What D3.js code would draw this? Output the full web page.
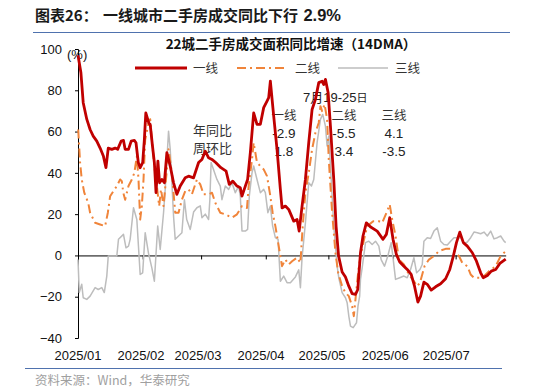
<!DOCTYPE html>
<html><head><meta charset="utf-8">
<script src="https://cdn.jsdelivr.net/npm/d3@7"></script>
<style>
body{margin:0;background:#fff;}
svg{display:block;}
.cn{font-family:"Noto Sans CJK SC","Noto Sans",sans-serif;}
.num{font-family:"Liberation Sans",Arial,sans-serif;}
</style></head>
<body><svg id="c" width="535" height="392"></svg>
<script>
// ---- data (day offset from 2025-01-01, value %) ----
const seriesNames = ["一线","二线","三线"];
const tier1Days = [0,1.4,2.5,4.2,5.8,7.3,9,10.6,12.2,13.4,14.5,16.2,17.8,19,20.7,21.8,22.6,24.2,25.5,27,27.8,28.9,29.8,31,31.8,32.5,34,34.6,35.7,36.6,37.4,38.3,39.1,40.2,41.4,42.6,44.2,45.8,47.4,49,51.4,53,55.4,57.8,59.4,61,62.6,64.2,66,68.5,71,72.5,74.2,76.2,77.8,78.6,80.2,81.3,82.6,84.2,85.8,87.4,89,90.6,91.4,92.2,93.8,95.4,97,97.8,99.4,101,103.4,105,106,107.4,109,110.6,112.2,113.8,115.4,117,117.8,118.6,119.9,121,122.6,123.7,124.9,126.6,128.2,129.8,131.4,133,134.1,135.4,136.6,138.2,140.1,143.4,146.2,147.8,149.4,151,152.6,154.2,156.2,157.8,159.7,161.3,162.9,164.2,165.8,167.4,169.3,171.4,173.8,176.2,178.2,179.9,181.4,183,184.7,186.6,189,191,193,194.2,196.2,198.1,200.2,202.2,205];
const tier1Vals = [97,88.5,74,66,61,57.8,55.4,52,48,42.5,52,51.4,52,51.4,55.4,55.7,51.4,51.4,55.4,55.7,54.6,45,42.5,45,56,69,64,63.5,53,45,30.4,45.7,35.2,36.8,35.2,49.8,43.3,35.2,29.6,33.6,37.6,38.4,37.6,45,46.5,50.5,47.3,46.5,45,42.5,40.8,34.4,36,33.6,32.8,28.7,33.6,36.8,49.8,69,63.5,63.5,71.6,74.8,76.4,84.4,67.5,51.4,32,23,23.9,22.3,16.6,17.4,11.8,23.9,36.8,54.6,70.7,75.6,83.7,84.4,82.8,85.3,78.8,62.6,36.8,14.2,-0.3,-8,-10.5,-14.9,-18.5,-18.9,-16.5,1.3,9.4,15.8,13.9,11.8,7.8,10.2,18.3,7.8,0.5,-3.2,-5.2,-6.8,-9.2,-14.9,-22.6,-19.7,-12.9,-14,-16.8,-15.2,-13.7,-11.3,-6.8,-0.3,6.2,11.3,6.2,4.5,1.3,-2.8,-8.4,-10.8,-9.7,-7.6,-6.8,-3.9,-1.8];

const tier2Days = [0.1,1,1.8,3,4.9,5.8,8.2,10.6,13,14.3,15.4,17,18.6,20.2,21,21.7,22.6,24.2,25.8,27,28.2,29,29.8,30.6,31.4,32.2,33.8,34.6,35.4,36.6,37.8,38.9,39.8,41,42.6,43.4,45,46.6,48.2,49.8,51.4,53,54.6,57,58.6,60.2,62.6,64.2,65.8,68.2,70.6,73.8,76.2,78.6,81,81.8,83.4,84.2,85.8,87.4,89,90.6,92.2,93.3,94.6,96.2,97.8,99.4,101,102.6,105,106.6,107.7,109,110.6,112.2,113.8,115.4,116.2,117,118.2,119.4,120.2,121.8,123.4,124.7,126.6,128.2,129.8,131.4,132.2,133.3,134.6,136.2,138.6,141.5,144.2,145.8,148.2,149.4,150.6,152.2,153.8,156.2,158.6,161,162.6,163.9,165,166.1,168.2,170.6,173,176.2,178.6,181,182.6,184.2,186.6,188.2,189.8,193.8,197,200.2,202.6,204.2,205];
const tier2Vals = [61,45,36.8,30.4,25.5,20.7,15.8,15,14.2,20.7,28.7,31.2,33.6,36.8,36,30.4,27,33.6,36.8,40,48,36.8,17.4,23.9,36.8,56,64,66,56,43.3,33.6,23.9,32,23.9,41.7,51.4,40,20.7,20.7,27,31.2,32,29.6,36.8,34.4,29.6,29.6,30.4,25.5,20.7,19.9,18.3,19.9,23.9,23,33.6,46.5,54.6,45,43.3,41.7,38.4,28.7,20.7,14.2,4.5,-5.2,-2,-4.4,-2.8,-1.1,-3.6,14.2,30.4,40,51.4,59.4,64.3,72.3,69.9,73.2,65.9,46.5,20.7,1.3,-8.4,-14.9,-18.1,-19.7,-24.6,-29.4,-18.1,-5.2,3.7,14.2,16.6,16.6,15.8,21.5,24.7,17.4,9.4,-2,-4.4,-9.2,-12.5,-14.9,-13.2,-9.2,-5.2,-2,-0.3,2.1,3.2,3.2,1.5,-0.3,-3.6,-5.2,-9.2,-10.8,-10.8,-7.6,-5.2,-0.3,1.3,2];

const tier3Days = [0,0.6,1.8,2.5,4.2,5.8,8.2,9.7,11.4,12.6,13.8,14.5,16.2,18.6,19.4,21.8,23,24.2,25,26.6,28.2,29.8,31,32.2,33.8,35.4,36.6,38.2,39.4,41,41.8,43.4,44.2,45,45.8,46.6,48.2,49.8,51,52.1,53.8,55.4,57,58.6,59.4,61,62.6,63.2,63.8,64.9,66.6,68.2,69,70.6,72.2,73.8,75.4,77,77.8,78.6,80.2,81.3,82.1,83.4,84.2,85.8,87.4,89,89.8,91,92.2,93.3,94.6,95.9,97,98.6,100.2,101.8,104.2,105.8,106.6,107.4,109,110.6,111.9,113,114.6,116.2,117.3,118.6,119.4,120.2,121,122.6,124.2,125,126.6,128.2,129,129.8,130.6,131.9,133.5,134.2,135,135.4,136.2,137.8,139.4,141,142.6,144.2,145.3,146.9,148.5,150.1,151.1,152.2,154.2,156.2,157.8,159.4,161,162.3,163.9,165,165.8,167.4,169,170.6,172.2,173.8,175.4,177,178.6,180.2,181.8,183.4,185,186.6,188.2,189.8,191.4,193,194.6,196.2,197.8,199.4,201,202.6,204.2,205];
const tier3Vals = [-2,-18,-14,-20.5,-21.3,-19.7,-15.6,-16.5,-15.6,-18,-10,-0.3,-0.3,-0.3,7.8,10.2,3.7,4.5,7.8,23.1,17.4,-9.2,-8.4,11,1,-6,-12.5,14.2,2.9,20.7,32,60.2,51.4,35.2,19,7.8,9.4,11,27,17.4,12.6,21,23.1,24,18.3,20,17.4,27,45,41.7,36.8,33.6,27,33.6,32,35.2,30.4,33.6,28.7,11.8,11.8,12.6,28.7,40,43.3,36.8,30.4,32,30.4,20.7,23.9,14.2,8.6,7.8,-12.5,-10,-13.2,-13.2,-10.4,-7,-15.6,-1,15.8,35.2,33.6,36.8,54.6,65.9,68.3,62.6,53,57.8,43.3,14.2,-5.2,-10.8,-18,-20.5,-22.9,-29.4,-34.2,-35,-32.6,-24.6,-19.7,-11.6,-6,6.2,6.9,5.3,6.9,4.5,-2,-5.2,-0.3,6.2,-2,-11.6,-10.8,-10,-10.8,-6.8,-1.1,-8.4,-6.8,-4.4,6.9,8.6,8.2,11.8,13.4,6.9,5.3,5,6.9,8.6,8.6,8.6,5.8,6.5,8.6,11.3,11,10.5,11.3,9.4,11.8,8,8.6,9.4,6.9,6.2];

const yTicks = [-40,-20,0,20,40,60,80,100];
const monthLabels = ["2025/01","2025/02","2025/03","2025/04","2025/05","2025/06","2025/07"];
const noteRows = ["年同比","周环比"];
const yoyVals = ["-2.9","-5.5","4.1"];
const wowVals = ["1.8","3.4","-3.5"];

// ---- drawing ----
const svg = d3.select("#c");
const start = new Date(2025,0,1);
const toDate = d => new Date(start.getTime() + d*86400000);
const x = d3.scaleTime().domain([start, new Date(2025,6,25)]).range([78,505.7]);
const y = d3.scaleLinear().domain([-40,100]).range([338,49]);

// title & rules
svg.append("text").attr("class","cn").attr("x",35).attr("y",21)
  .attr("font-size",15).attr("font-weight","bold").attr("fill","#1a1a1a").text("图表26：");
svg.append("text").attr("class","cn").attr("x",103).attr("y",21)
  .attr("font-size",15).attr("font-weight","bold").attr("fill","#1a1a1a")
  .text("一线城市二手房成交同比下行 ").append("tspan").attr("class","num").attr("font-size",16.5).attr("dx",2).text("2.9%");
svg.append("line").attr("x1",33).attr("x2",510).attr("y1",32.5).attr("y2",32.5)
  .attr("stroke","#4F72AE").attr("stroke-width",1);
svg.append("line").attr("x1",25).attr("x2",502).attr("y1",368.5).attr("y2",368.5)
  .attr("stroke","#4F72AE").attr("stroke-width",1);
svg.append("text").attr("class","cn").attr("x",35).attr("y",385)
  .attr("font-size",12.5).attr("fill","#a0a0a0").text("资料来源：Wind，华泰研究");

// chart title
svg.append("text").attr("class","cn").attr("x",291).attr("y",49).attr("text-anchor","middle")
  .attr("font-size",13.5).attr("font-weight","bold").attr("fill","#111")
  .text("22城二手房成交面积同比增速（14DMA）");

// y axis
const yAxis = d3.axisLeft(y).tickValues(yTicks).tickSize(3).tickPadding(13).tickFormat(d3.format("d"));
const gy = svg.append("g").attr("transform","translate(78,0)").call(yAxis);
gy.select(".domain").attr("stroke","#000");
gy.selectAll(".tick line").attr("stroke","#000");
gy.selectAll(".tick text").attr("class","num").attr("font-size",13).attr("fill","#111");
svg.append("text").attr("class","num").attr("x",67).attr("y",59).attr("font-size",13).attr("fill","#111").text("(%)");

// x axis at zero
const months = d3.timeMonth.range(new Date(2025,0,1), new Date(2025,6,2));
const xAxis = d3.axisBottom(x).tickValues(months).tickSize(4).tickSizeOuter(0).tickFormat("");
const gx = svg.append("g").attr("transform",`translate(0,${y(0)})`).call(xAxis);
gx.select(".domain").attr("stroke","#000");
gx.selectAll(".tick line").attr("stroke","#000");
svg.append("g").selectAll("text").data(months).join("text")
  .attr("class","num").attr("font-size",13).attr("fill","#111").attr("text-anchor","middle")
  .attr("x",(m)=>78 + (x(m)-78)*0.975).attr("y",360)
  .text((m,i)=>monthLabels[i]);

// annotation
const noteG = svg.append("g").attr("fill","#222");
noteG.append("text").attr("class","num").attr("x",303).attr("y",102).attr("font-size",13)
  .text("7").append("tspan").attr("class","cn").text("月")
  .append("tspan").attr("class","num").text("19-25").append("tspan").attr("class","cn").attr("font-size",11).text("日");
const colX = [284,344,394];
seriesNames.forEach((n,i)=>{
  noteG.append("text").attr("class","cn").attr("x",colX[i]).attr("y",120).attr("text-anchor","middle").attr("font-size",12.5).attr("fill","#333").text(n);
  noteG.append("text").attr("class","num").attr("x",colX[i]).attr("y",138).attr("text-anchor","middle").attr("font-size",13.5).text(yoyVals[i]);
  noteG.append("text").attr("class","num").attr("x",colX[i]).attr("y",156).attr("text-anchor","middle").attr("font-size",13.5).text(wowVals[i]);
});
noteRows.forEach((r,i)=>{
  noteG.append("text").attr("class","cn").attr("x",193).attr("y",135+i*18).attr("font-size",13).attr("fill","#333").text(r);
});

// lines
const line = d3.line().x(d=>x(toDate(d[0]))).y(d=>y(d[1]));
const styles = [
  {days:tier3Days, vals:tier3Vals, color:"#BDBDBD", w:1.5, dash:null},
  {days:tier2Days, vals:tier2Vals, color:"#F0843A", w:2, dash:"9,4,2,4"},
  {days:tier1Days, vals:tier1Vals, color:"#C00000", w:2.8, dash:null}
];
styles.forEach(s=>{
  const pts = s.days.map((d,i)=>[d,s.vals[i]]);
  svg.append("path").datum(pts).attr("d",line).attr("fill","none")
    .attr("stroke",s.color).attr("stroke-width",s.w).attr("stroke-linejoin","round")
    .attr("stroke-dasharray",s.dash);
});

// legend
const leg = [
  {x1:135,x2:187,tx:193,color:"#C00000",w:2.8,dash:null},
  {x1:237,x2:288,tx:295,color:"#F0843A",w:2,dash:"9,4,2,4"},
  {x1:338,x2:388,tx:395,color:"#BDBDBD",w:1.5,dash:null}
];
leg.forEach((l,i)=>{
  svg.append("line").attr("x1",l.x1).attr("x2",l.x2).attr("y1",68).attr("y2",68)
    .attr("stroke",l.color).attr("stroke-width",l.w).attr("stroke-dasharray",l.dash);
  svg.append("text").attr("class","cn").attr("x",l.tx).attr("y",72.5).attr("font-size",12.5).attr("fill","#333").text(seriesNames[i]);
});
</script></body></html>
